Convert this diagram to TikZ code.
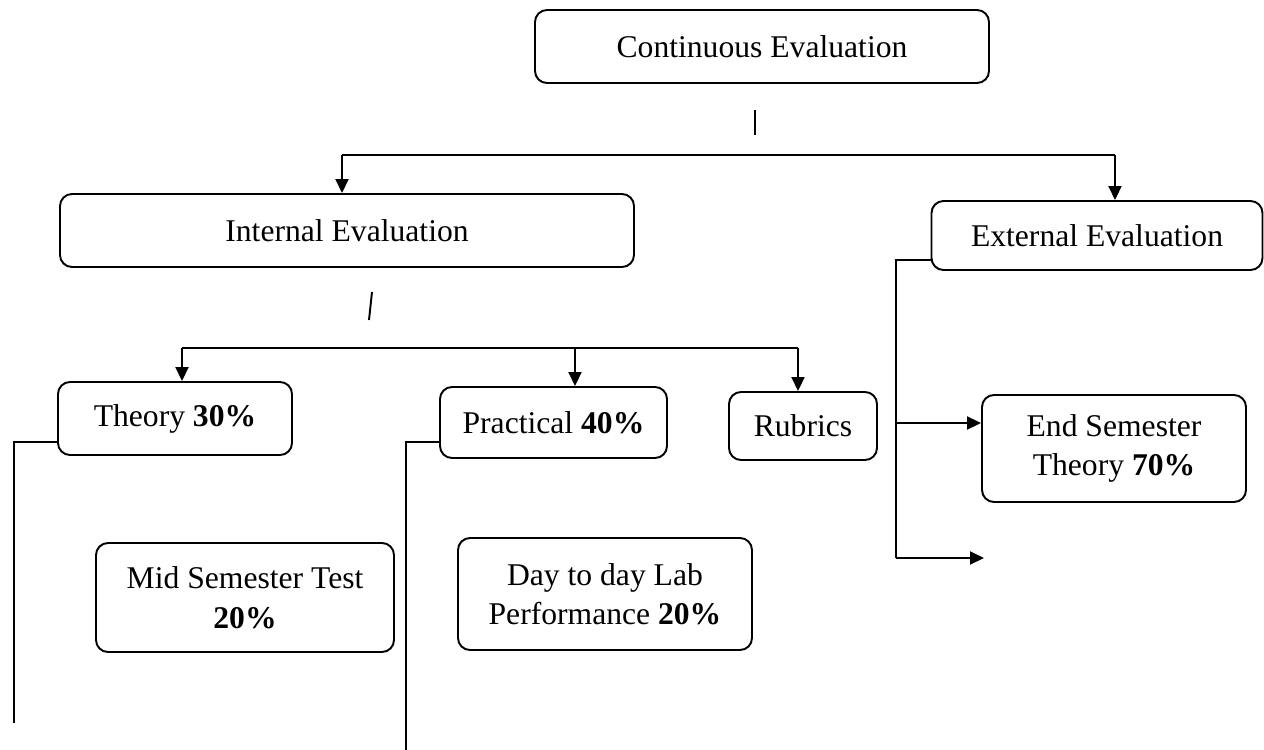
\documentclass[tikz,border=0pt]{standalone}
\usepackage{fontspec}
\setmainfont{Liberation Serif}
\usetikzlibrary{arrows.meta}
\begin{document}
\begin{tikzpicture}[x=0.02cm,y=-0.02cm,
  box/.style={draw, line width=1.1pt, rounded corners=0.24cm, align=center, inner sep=0pt,
    font=\fontsize{18}{22.5}\selectfont},
  conn/.style={line width=1.1pt},
  arr/.style={conn, -{Triangle[length=0.28cm,width=0.26cm]}}]
\useasboundingbox (0,0) rectangle (1264,750);
% nodes
\node[box, minimum width=454*0.02cm, minimum height=73*0.02cm] (cont) at (762,46.5) {Continuous Evaluation};
\node[box, minimum width=574*0.02cm, minimum height=73*0.02cm] (int) at (347,230.5) {Internal Evaluation};
\node[box, minimum width=331*0.02cm, minimum height=69*0.02cm] (ext) at (1097,235.5) {External Evaluation};
\node[box, minimum width=234*0.02cm, minimum height=73*0.02cm] (theory) at (175,418.5) {Theory \textbf{30\%}};
\node[box, minimum width=227*0.02cm, minimum height=71*0.02cm] (prac) at (553.5,422.5) {Practical \textbf{40\%}};
\node[box, minimum width=148*0.02cm, minimum height=68*0.02cm] (rub) at (803,426) {Rubrics};
\node[box, minimum width=264*0.02cm, minimum height=107*0.02cm] (endsem) at (1114,448.5) {End Semester\\Theory \textbf{70\%}};
\node[box, minimum width=298*0.02cm, minimum height=109*0.02cm] (mid) at (245,597.5) {Mid Semester Test\\\textbf{20\%}};
\node[box, minimum width=294*0.02cm, minimum height=112*0.02cm] (day) at (605,594) {Day to day Lab\\Performance \textbf{20\%}};
% coordinates
\coordinate (t1a) at (755,110); \coordinate (t1b) at (755,135);
\coordinate (b1) at (342,155); \coordinate (b2) at (1115,155);
\coordinate (t2a) at (372,292); \coordinate (t2b) at (369,320);
\coordinate (c1) at (182,348); \coordinate (c2) at (575,348); \coordinate (c3) at (798,348);
\coordinate (th1) at (14,442); \coordinate (th2) at (14,723);
\coordinate (pr1) at (406,442); \coordinate (pr2) at (406,750);
\coordinate (ex1) at (896,260); \coordinate (ex2) at (896,423); \coordinate (ex3) at (896,558);
\coordinate (exend) at (984,558);
% connectors
\draw[conn] (t1a) -- (t1b);
\draw[conn] (b1) -- (b2);
\draw[arr] (b1) -- (b1 |- int.north);
\draw[arr] (b2) -- (b2 |- ext.north);
\draw[conn] (t2a) -- (t2b);
\draw[conn] (c1) -- (c3);
\draw[arr] (c1) -- (c1 |- theory.north);
\draw[arr] (c2) -- (c2 |- prac.north);
\draw[arr] (c3) -- (c3 |- rub.north);
\draw[conn] (theory.west |- th1) -- (th1) -- (th2);
\draw[conn] (prac.west |- pr1) -- (pr1) -- (pr2);
\draw[conn] (ext.west |- ex1) -- (ex1) -- (ex3);
\draw[arr] (ex2) -- (endsem.west |- ex2);
\draw[arr] (ex3) -- (exend);
\end{tikzpicture}
\end{document}
